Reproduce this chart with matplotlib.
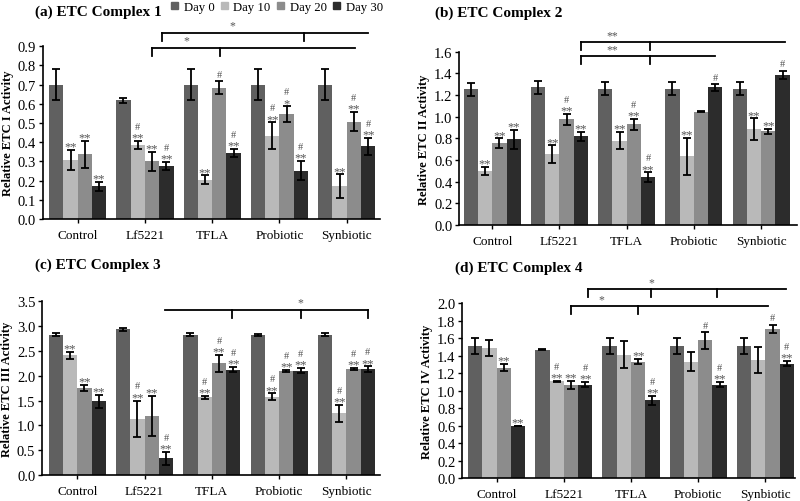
import matplotlib
matplotlib.use('Agg')
import matplotlib.pyplot as plt
import matplotlib.patches as mpatches
import numpy as np

plt.rcParams['font.family'] = ['Liberation Serif', 'DejaVu Serif']

W, H = 800, 502

groups = ['Control', 'Lf5221', 'TFLA', 'Probiotic', 'Synbiotic']
days = ['Day 0', 'Day 10', 'Day 20', 'Day 30']
COLORS = ['#606060', '#b9b9b9', '#8c8c8c', '#2c2c2c']

# values per group: [day0, day10, day20, day30]
c1_mean = [[0.70, 0.307, 0.338, 0.170],
           [0.618, 0.385, 0.300, 0.275],
           [0.70, 0.205, 0.685, 0.345],
           [0.70, 0.435, 0.547, 0.252],
           [0.70, 0.172, 0.507, 0.378]]
c1_err = [[0.08, 0.053, 0.07, 0.023],
          [0.012, 0.022, 0.05, 0.022],
          [0.08, 0.022, 0.032, 0.02],
          [0.08, 0.068, 0.04, 0.05],
          [0.08, 0.06, 0.05, 0.045]]
c1_stars = [['', '**', '**', '**'],
            ['', '**', '**', '**'],
            ['', '**', '', '**'],
            ['', '**', '*', '**'],
            ['', '**', '**', '**']]
c1_hash = [[0, 0, 0, 0],
           [0, 1, 0, 1],
           [0, 0, 1, 1],
           [0, 1, 1, 1],
           [0, 0, 1, 1]]

c2_mean = [[1.255, 0.496, 0.755, 0.79],
           [1.27, 0.655, 0.975, 0.82],
           [1.258, 0.78, 0.93, 0.44],
           [1.258, 0.635, 1.045, 1.27],
           [1.258, 0.885, 0.865, 1.385]]
c2_err = [[0.06, 0.038, 0.045, 0.09],
          [0.058, 0.08, 0.05, 0.04],
          [0.058, 0.08, 0.05, 0.045],
          [0.058, 0.17, 0.006, 0.03],
          [0.058, 0.1, 0.022, 0.038]]
c2_stars = [['', '**', '**', '**'],
            ['', '**', '**', '**'],
            ['', '**', '**', '**'],
            ['', '**', '', ''],
            ['', '**', '**', '']]
c2_hash = [[0, 0, 0, 0],
           [0, 0, 1, 0],
           [0, 0, 1, 1],
           [0, 0, 0, 1],
           [0, 0, 0, 1]]

c3_mean = [[2.83, 2.41, 1.76, 1.49],
           [2.94, 1.13, 1.19, 0.34],
           [2.83, 1.57, 2.25, 2.125],
           [2.83, 1.58, 2.10, 2.10],
           [2.83, 1.24, 2.135, 2.135]]
c3_err = [[0.03, 0.07, 0.06, 0.13],
          [0.03, 0.37, 0.40, 0.13],
          [0.03, 0.03, 0.165, 0.05],
          [0.02, 0.065, 0.02, 0.05],
          [0.03, 0.17, 0.02, 0.055]]
c3_stars = [['', '**', '**', '**'],
            ['', '**', '**', '**'],
            ['', '**', '**', '**'],
            ['', '**', '**', '**'],
            ['', '**', '**', '**']]
c3_hash = [[0, 0, 0, 0],
           [0, 1, 0, 1],
           [0, 1, 1, 1],
           [0, 1, 1, 1],
           [0, 1, 1, 1]]

c4_mean = [[1.515, 1.49, 1.265, 0.595],
           [1.47, 1.105, 1.065, 1.068],
           [1.515, 1.41, 1.33, 0.89],
           [1.515, 1.33, 1.575, 1.068],
           [1.515, 1.35, 1.71, 1.31]]
c4_err = [[0.09, 0.09, 0.04, 0.005],
          [0.01, 0.01, 0.05, 0.03],
          [0.09, 0.155, 0.03, 0.05],
          [0.09, 0.11, 0.095, 0.03],
          [0.09, 0.15, 0.045, 0.03]]
c4_stars = [['', '', '**', '**'],
            ['', '**', '**', '**'],
            ['', '', '**', '**'],
            ['', '', '', '**'],
            ['', '', '', '**']]
c4_hash = [[0, 0, 0, 0],
           [0, 1, 0, 1],
           [0, 0, 0, 1],
           [0, 0, 1, 1],
           [0, 0, 1, 1]]

# significance brackets: start, end, downward ticks, level, label, label x
c1_brackets = [dict(x0=1.10, x1=4.12, ticks=[1.10, 2.12], y=0.893, label='*', lx=1.61),
               dict(x0=1.25, x1=4.32, ticks=[1.25, 3.36], y=0.971, label='*', lx=2.30)]
c2_brackets = [dict(x0=1.32, x1=3.32, ticks=[1.32, 2.35], y=1.56, label='**', lx=1.78),
               dict(x0=1.32, x1=4.36, ticks=[1.32, 2.35], y=1.69, label='**', lx=1.78)]
c3_brackets = [dict(x0=1.30, x1=4.32, ticks=[2.30, 3.32, 4.32], y=3.33, label='*', lx=3.31)]
c4_brackets = [dict(x0=1.10, x1=4.04, ticks=[1.10, 2.11], y=1.97, label='*', lx=1.56),
               dict(x0=1.36, x1=4.31, ticks=[1.36, 2.30, 3.28], y=2.165, label='*', lx=2.30)]

fig = plt.figure(figsize=(W / 100, H / 100), dpi=100)


def px_axes(left, top, right, bottom):
    return fig.add_axes([left / W, 1 - bottom / H, (right - left) / W, (bottom - top) / H])


def panel(ax, mean, err, stars, hashes, brackets, ylim, ystep, xlim, ylabel, title, tpos):
    mean, err = np.array(mean), np.array(err)
    x = np.arange(len(groups))
    bw = 0.2125
    for d in range(4):
        xd = x + (d - 1.5) * bw
        ax.bar(xd, mean[:, d], width=bw, color=COLORS[d], zorder=2)
        ax.errorbar(xd, mean[:, d], yerr=err[:, d], fmt='none', ecolor='black',
                    elinewidth=1.3, capsize=3, capthick=1.3, zorder=3)
        for g in range(len(groups)):
            top = mean[g, d] + err[g, d]
            if stars[g][d]:
                ax.annotate(stars[g][d], (xd[g], top), xytext=(0, 2.5),
                            textcoords='offset points', ha='center', va='center',
                            fontsize=9, color='#555555', zorder=4, annotation_clip=False)
            if hashes[g][d]:
                ax.annotate('#', (xd[g], top), xytext=(0, 10.5 if stars[g][d] else 5),
                            textcoords='offset points', ha='center', va='center',
                            fontsize=7.5, color='#555555', zorder=4, annotation_clip=False)
    ax.set_xlim(*xlim)
    ax.set_ylim(*ylim)
    ax.set_yticks(np.arange(0, ylim[1] + 1e-9, ystep))
    ax.yaxis.set_major_formatter(matplotlib.ticker.FormatStrFormatter('%.1f'))
    ax.set_xticks(x)
    ax.set_xticklabels(groups)
    ax.tick_params(axis='both', direction='out', length=3, width=1, pad=2)
    ax.tick_params(axis='x', pad=4, labelsize=9.5)
    ax.tick_params(axis='y', labelsize=10.5)
    for s in ['top', 'right']:
        ax.spines[s].set_visible(False)
    for s in ['left', 'bottom']:
        ax.spines[s].set_linewidth(1.2)
    ax.set_ylabel(ylabel, fontsize=9, fontweight='bold')
    wpx = ax.get_position().width * W
    ax.yaxis.set_label_coords(-29 / wpx, 0.5)

    # brackets
    hpx = ax.get_position().height * H
    unit = (ylim[1] - ylim[0]) / hpx
    for b in brackets:
        ax.plot([b['x0'], b['x1']], [b['y'], b['y']], color='black', lw=1.3,
                clip_on=False, zorder=5)
        for t in b['ticks']:
            ax.plot([t, t], [b['y'], b['y'] - 8 * unit], color='black', lw=1.3,
                    clip_on=False, zorder=5)
        ax.text(b['lx'], b['y'] + 1 * unit, b['label'], ha='center', va='bottom',
                fontsize=8.5, color='#555555', clip_on=False)
    fig.text(tpos[0] / W, 1 - tpos[1] / H, title, fontsize=11, fontweight='bold',
             ha='left', va='center')


ax1 = px_axes(42.7, 47.3, 380, 220)
panel(ax1, c1_mean, c1_err, c1_stars, c1_hash, c1_brackets, (0, 0.9), 0.1,
      (-0.52, 4.495), 'Relative ETC I Activity', '(a) ETC Complex 1', (35, 12))

ax2 = px_axes(459.3, 52.7, 796.7, 226)
panel(ax2, c2_mean, c2_err, c2_stars, c2_hash, c2_brackets, (0, 1.6), 0.2,
      (-0.49, 4.53), 'Relative ETC II Activity', '(b) ETC Complex 2', (435, 13))

ax3 = px_axes(42.3, 302.3, 380, 476)
panel(ax3, c3_mean, c3_err, c3_stars, c3_hash, c3_brackets, (0, 3.5), 0.5,
      (-0.52, 4.5), 'Relative ETC III Activity', '(c) ETC Complex 3', (35, 265))

ax4 = px_axes(462.3, 304.3, 795, 479)
panel(ax4, c4_mean, c4_err, c4_stars, c4_hash, c4_brackets, (0, 2.0), 0.2,
      (-0.51, 4.44), 'Relative ETC IV Activity', '(d) ETC Complex 4', (455, 268))

handles = [mpatches.Patch(color=c, label=d) for c, d in zip(COLORS, days)]
fig.legend(handles=handles, loc='center', bbox_to_anchor=(277 / W, 1 - 8 / H),
           ncol=4, frameon=False, fontsize=9.2, handlelength=0.55, handleheight=0.55,
           handletextpad=0.45, columnspacing=0.5, borderaxespad=0, borderpad=0)

fig.savefig('out.png', dpi=100, facecolor='white')
